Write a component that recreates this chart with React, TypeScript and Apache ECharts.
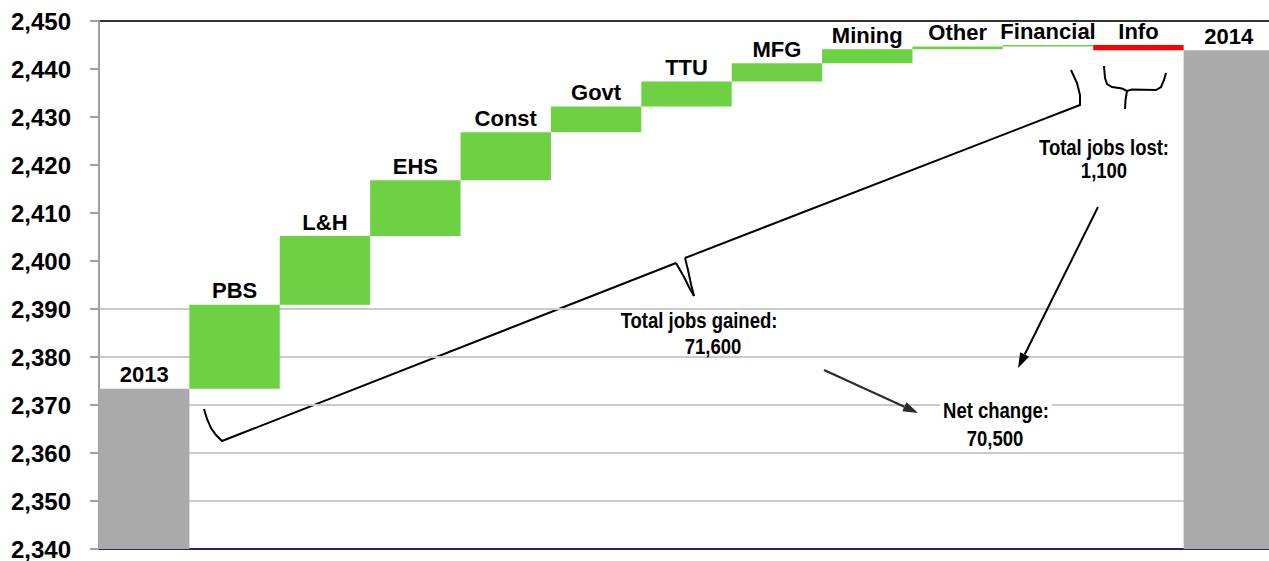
import React, { useEffect, useRef } from "react";
import * as echarts from "echarts";

// ---- data (thousands of jobs) ----
const categories = ["2013", "PBS", "L&H", "EHS", "Const", "Govt", "TTU", "MFG", "Mining", "Other", "Financial", "Info", "2014"];
const startLevel = 2373.4;
const sectorChanges = [17.5, 14.3, 11.6, 10.0, 5.4, 5.2, 3.8, 2.9, 0.6, 0.3, -1.1];
const yMin = 2340;
const yMax = 2450;
const yStep = 10;

// build waterfall stacks
const baseVals: (number | null)[] = [];
const gainVals: (number | null)[] = [];
const lossVals: (number | null)[] = [];
const totalVals: (number | null)[] = [];
(() => {
  let level = startLevel;
  baseVals.push(null); gainVals.push(null); lossVals.push(null); totalVals.push(startLevel);
  sectorChanges.forEach((c) => {
    if (c >= 0) {
      baseVals.push(level); gainVals.push(c); lossVals.push(null); totalVals.push(null);
      level += c;
    } else {
      level += c;
      baseVals.push(level); gainVals.push(null); lossVals.push(-c); totalVals.push(null);
    }
  });
  baseVals.push(null); gainVals.push(null); lossVals.push(null); totalVals.push(Math.round(level * 10) / 10);
})();

const FONT = '"Liberation Sans", Arial, Helvetica, sans-serif';

function arrow(x1: number, y1: number, x2: number, y2: number, color: string, len = 15, w = 10) {
  const a = Math.atan2(y2 - y1, x2 - x1);
  const bx = x2 - len * Math.cos(a);
  const by = y2 - len * Math.sin(a);
  const nx = -Math.sin(a) * (w / 2);
  const ny = Math.cos(a) * (w / 2);
  return [
    { type: "line", z: 10, shape: { x1, y1, x2: bx, y2: by }, style: { stroke: color, lineWidth: 2 }, silent: true },
    {
      type: "polygon",
      z: 10,
      shape: { points: [[x2, y2], [bx + nx, by + ny], [bx - nx, by - ny]] },
      style: { fill: color },
      silent: true,
    },
  ];
}

function pl(points: number[][]) {
  return { type: "polyline", shape: { points }, style: { stroke: "#000", lineWidth: 2, fill: "none" }, silent: true };
}

function txt(text: string, x: number, y: number, bg = false) {
  return {
    type: "text",
    x,
    y,
    scaleY: 1.16,
    z: 5,
    silent: true,
    style: {
      text,
      fill: "#000",
      fontSize: 18.5,
      fontWeight: "bold",
      fontFamily: FONT,
      align: "center",
      verticalAlign: "middle",
      ...(bg ? { backgroundColor: "#ffffff", padding: [1, 3] } : {}),
    },
  };
}

export default function App() {
  const ref = useRef<HTMLDivElement>(null);
  useEffect(() => {
    if (!ref.current) return;
    const chart = echarts.init(ref.current, undefined, { renderer: "svg" });
    const nLines = (yMax - yMin) / yStep + 1;
    const splitColors: string[] = [];
    for (let i = 0; i < nLines; i++) {
      const v = yMin + i * yStep;
      if (v === yMax) splitColors.push("#333333");
      else if (v > yMin && v <= 2390) splitColors.push("#cacaca");
      else splitColors.push("rgba(0,0,0,0)");
    }
    const labelStyle = {
      show: true,
      position: "top",
      distance: 3,
      color: "#000",
      fontSize: 22,
      fontWeight: "bold",
      fontFamily: FONT,
      formatter: (p: any) => categories[p.dataIndex],
    };
    chart.setOption({
      animation: false,
      grid: { left: 99, right: 0, top: 21, bottom: 11.5, containLabel: false },
      xAxis: {
        type: "category",
        data: categories,
        axisLine: { show: true, lineStyle: { color: "#232370", width: 2 } },
        axisTick: { show: false },
        axisLabel: { show: false },
        splitLine: { show: false },
      },
      yAxis: {
        type: "value",
        min: yMin,
        max: yMax,
        interval: yStep,
        axisLine: { show: true, lineStyle: { color: "#a0a0a0", width: 2 } },
        axisTick: { show: true, length: 9, lineStyle: { color: "#a0a0a0", width: 2 } },
        axisLabel: {
          color: "#000",
          fontSize: 24,
          fontWeight: "bold",
          fontFamily: FONT,
          margin: 28,
          formatter: (v: number) => v.toLocaleString("en-US"),
        },
        splitLine: { show: true, lineStyle: { color: splitColors, width: 2 } },
      },
      series: [
        {
          type: "bar",
          stack: "wf",
          data: baseVals,
          barCategoryGap: "0%",
          itemStyle: { color: "rgba(0,0,0,0)" },
          silent: true,
        },
        {
          type: "bar",
          stack: "wf",
          data: totalVals,
          barCategoryGap: "0%",
          itemStyle: { color: "#aaaaaa" },
          label: labelStyle,
        },
        {
          type: "bar",
          stack: "wf",
          data: gainVals,
          barCategoryGap: "0%",
          itemStyle: { color: "#6dd143" },
          label: labelStyle,
        },
        {
          type: "bar",
          stack: "wf",
          data: lossVals,
          barCategoryGap: "0%",
          itemStyle: { color: "#ff0000" },
          label: labelStyle,
        },
      ],
      graphic: [
        // brace under the gains
        pl([[204, 409], [207, 419], [211, 428], [216, 435], [222, 441], [676, 263]]),
        pl([[676, 263], [684, 277], [690, 289], [694, 296]]),
        pl([[685, 258], [688, 270], [691, 284], [694, 296]]),
        pl([[685, 258], [1080, 105], [1080, 95], [1077, 83], [1071, 70]]),
        // brace under the loss
        pl([[1104, 66], [1105, 78], [1107, 84], [1112, 87], [1122, 88.5], [1127, 91], [1132, 89.5], [1156, 90], [1161, 87], [1164, 80], [1166, 73]]),
        pl([[1127, 91], [1125.5, 100], [1125, 109]]),
        txt("Total jobs gained:", 699, 321),
        txt("71,600", 713, 347),
        txt("Total jobs lost:", 1104, 148),
        txt("1,100", 1104, 171),
        txt("Net change:", 996, 411, true),
        txt("70,500", 995, 439),
        ...arrow(1098, 207, 1018, 368, "#000"),
        ...arrow(824, 370, 918, 413, "#2a2a2a"),
      ],
    });
    return () => chart.dispose();
  }, []);
  return (
    <div style={{ position: "absolute", left: 0, top: 0, width: 1269, height: 561, overflow: "hidden", background: "#fff" }}>
      <div ref={ref} style={{ position: "absolute", left: 0, top: 0, width: 1274, height: 561 }} />
    </div>
  );
}
